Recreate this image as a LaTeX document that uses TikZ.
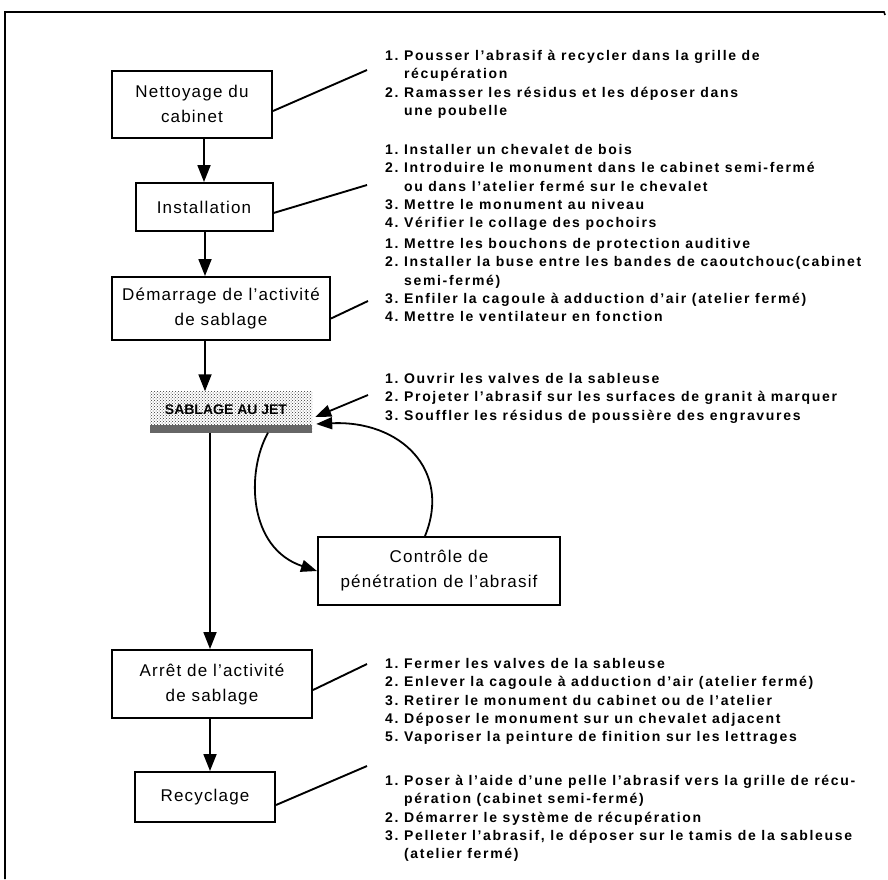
\documentclass[tikz,border=0pt]{standalone}
\usepackage{fontspec}
\setmainfont{Liberation Sans}
\newfontfamily\stepfont[Ligatures=TeX,LetterSpace=7]{Liberation Sans}
\newfontfamily\notefont[Ligatures=TeX,LetterSpace=12]{Liberation Sans}
\usetikzlibrary{arrows.meta,patterns,calc}

\newcommand{\firstline}{\rule{0pt}{14pt}}

\begin{document}
\begin{tikzpicture}[x=1pt,y=-1pt,
  stepbox/.style={draw,line width=2pt,fill=white,align=center,inner sep=0pt,
    font=\stepfont\fontsize{17}{25}\selectfont},
  flow/.style={line width=1.8pt,-{Triangle[length=17pt,width=13pt]}},
  loopflow/.style={line width=1.8pt,-{Triangle[length=16pt,width=12pt]}},
  lead/.style={line width=1.9pt},
  notes/.style={anchor=north west,align=left,inner sep=0pt,
    font=\notefont\bfseries\fontsize{14}{18.25}\selectfont},
]
\useasboundingbox (0,0) rectangle (888,879);

% outer frame (top and left edges)
\draw[line width=1.6pt] (5,879) -- (5,12) -- (884,12) -- (885,15);

% process steps
\node[stepbox,minimum width=160pt,minimum height=67pt] (nett) at (192,104) {Nettoyage du\\cabinet};
\node[stepbox,minimum width=137pt,minimum height=48pt] (inst) at (204,207) {Installation};
\node[stepbox,minimum width=218pt,minimum height=63pt] (dem) at (221,308.5) {Démarrage de l'activité\\de sablage};
\node[minimum width=162pt,minimum height=41pt,inner sep=0pt,fill=black!38,
      pattern=crosshatch dots,pattern color=black!80] (jetbg) at (231,412) {};
\fill[black!60] ($(jetbg.south west)+(0,-8)$) rectangle (jetbg.south east);
\node[font=\bfseries\fontsize{14}{16}\selectfont,inner sep=1pt] (jet) at (226,410) {SABLAGE AU JET};
\node[stepbox,minimum width=242pt,minimum height=68pt] (ctrl) at (439,571) {Contrôle de\\pénétration de l'abrasif};
\node[stepbox,minimum width=200pt,minimum height=68pt] (arret) at (212,684) {Arrêt de l'activité\\de sablage};
\node[stepbox,minimum width=140pt,minimum height=50pt] (recy) at (205,797) {Recyclage};

% main sequence
\draw[flow] (inst.north |- nett.south) -- (inst.north);
\draw[flow] ($(inst.south)+(1,0)$) -- ($(inst.south |- dem.north)+(1,0)$);
\draw[flow] ($(inst.south |- dem.south)+(1,0)$) -- ($(inst.south |- jetbg.north)+(1,0)$);
\draw[flow] ($(arret.north |- jetbg.south)+(-2,0)$) -- ($(arret.north)+(-2,0)$);
\draw[flow] ($(arret.south)+(-2,0)$) -- ($(arret.south |- recy.north)+(-2,0)$);

% control loop
\draw[loopflow] ($(jetbg.south)+(37,0)$) .. controls (246,472) and (248,548) .. (ctrl.west);
\draw[loopflow] ($(ctrl.north)+(-14,0)$) .. controls (452,470) and (400,420) .. ($(jetbg.east)+(4,12)$);

% task lists
\node[notes] (t1) at (385,46.5) {\firstline 1.~Pousser l'abrasif à recycler dans la grille de\\
\phantom{1.~}récupération\\
2.~Ramasser les résidus et les déposer dans\\
\phantom{2.~}une poubelle};
\node[notes] (t2) at (385,140.5) {\firstline 1.~Installer un chevalet de bois\\
2.~Introduire le monument dans le cabinet semi-fermé\\
\phantom{2.~}ou dans l'atelier fermé sur le chevalet\\
3.~Mettre le monument au niveau\\
4.~Vérifier le collage des pochoirs};
\node[notes] (t3) at (385,234.5) {\firstline 1.~Mettre les bouchons de protection auditive\\
2.~Installer la buse entre les bandes de caoutchouc(cabinet\\
\phantom{2.~}semi-fermé)\\
3.~Enfiler la cagoule à adduction d'air (atelier fermé)\\
4.~Mettre le ventilateur en fonction};
\node[notes] (t4) at (385,369.5) {\firstline 1.~Ouvrir les valves de la sableuse\\
2.~Projeter l'abrasif sur les surfaces de granit à marquer\\
3.~Souffler les résidus de poussière des engravures};
\node[notes] (t5) at (385,654.5) {\firstline 1.~Fermer les valves de la sableuse\\
2.~Enlever la cagoule à adduction d'air (atelier fermé)\\
3.~Retirer le monument du cabinet ou de l'atelier\\
4.~Déposer le monument sur un chevalet adjacent\\
5.~Vaporiser la peinture de finition sur les lettrages};
\node[notes] (t6) at (385,771.5) {\firstline 1.~Poser à l'aide d'une pelle l'abrasif vers la grille de récu-\\
\phantom{1.~}pération (cabinet semi-fermé)\\
2.~Démarrer le système de récupération\\
3.~Pelleter l'abrasif, le déposer sur le tamis de la sableuse\\
\phantom{3.~}(atelier fermé)};

% leader lines from steps to their task lists
\coordinate (e1) at (367,70);
\coordinate (e2) at (367,185);
\coordinate (e3) at (368,301);
\coordinate (e4) at (368,395);
\coordinate (e5) at (367,664);
\coordinate (e6) at (367,766);
\draw[lead] ($(nett.east)+(0,7)$) -- (e1);
\draw[lead] ($(inst.east)+(0,6)$) -- (e2);
\draw[lead] ($(dem.east)+(0,10)$) -- (e3);
\draw[loopflow] (e4) -- ($(jetbg.east)+(3,5)$);
\draw[lead] ($(arret.east)+(0,6)$) -- (e5);
\draw[lead] ($(recy.east)+(0,8)$) -- (e6);
\end{tikzpicture}
\end{document}
